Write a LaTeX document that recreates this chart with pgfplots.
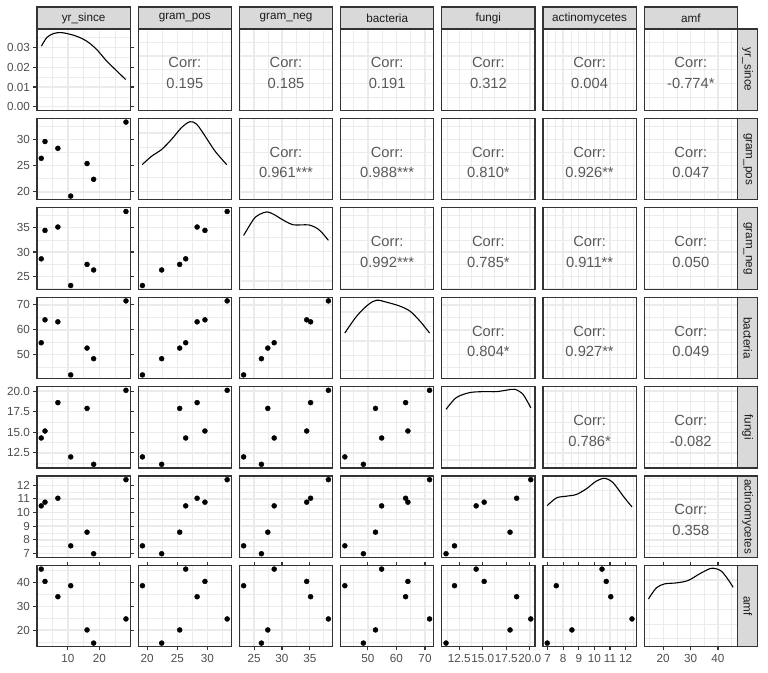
\documentclass[border=0pt]{standalone}
\usepackage{fontspec}
\setmainfont{Liberation Sans}
\usepackage{pgfplots}
\pgfplotsset{compat=1.18}
\usepackage{pgfplotstable}

\definecolor{grey20}{HTML}{333333}
\definecolor{grey30}{HTML}{4D4D4D}
\definecolor{grey92}{HTML}{EBEBEB}
\definecolor{grey85}{HTML}{D9D9D9}
\definecolor{grey10}{HTML}{1A1A1A}
\definecolor{corrc}{HTML}{595959}

\pgfplotstableread{
yr   gp    gn    bac   fun   act   amf
1.5  26.4  28.6  54.8  14.3  10.49 45.55
2.7  29.6  34.45 64.0  15.15 10.76 40.4
6.8  28.3  35.15 63.2  18.6  11.05 34.0
10.9 19.2  23.1  41.9  12.0  7.56  38.6
16.1 25.4  27.45 52.65 17.9  8.56  20.1
18.2 22.4  26.3  48.4  11.1  6.98  14.6
28.5 33.3  38.35 71.6  20.1  12.41 24.7
}\data

\pgfplotsset{
  base/.style={width=93.2pt,height=81.4pt,scale only axis,anchor=north west,
    axis line style={draw=grey20,line width=1.07pt},
    grid=both,
    major grid style={draw=grey92,line width=1.42pt},
    minor grid style={draw=grey92,line width=0.71pt},
    xticklabels={},yticklabels={},scaled ticks=false,
    tick align=outside,major tick length=3.67pt,minor tick length=0pt,
    xtick style={draw=none},ytick style={draw=none},
    ticklabel style={font=\fontsize{11.7}{13}\selectfont,text=grey30}},
  leftax/.style={ytick style={draw=grey20,line width=1.07pt},yticklabels={#1}},
  botax/.style={xtick style={draw=grey20,line width=1.07pt},xticklabels={#1}},
  xyr/.style={xmin=0.15,xmax=29.85,xtick={10,20},minor xtick={5,15,25}},
  yyr/.style={ymin=0.15,ymax=29.85,ytick={10,20},minor ytick={5,15,25}},
  xgp/.style={xmin=18.495,xmax=34.005,xtick={20,25,30},minor xtick={22.5,27.5,32.5}},
  ygp/.style={ymin=18.495,ymax=34.005,ytick={20,25,30},minor ytick={22.5,27.5,32.5}},
  xgn/.style={xmin=22.34,xmax=39.11,xtick={25,30,35},minor xtick={22.5,27.5,32.5,37.5}},
  ygn/.style={ymin=22.34,ymax=39.11,ytick={25,30,35},minor ytick={22.5,27.5,32.5,37.5}},
  xbac/.style={xmin=40.415,xmax=73.085,xtick={50,60,70},minor xtick={45,55,65}},
  ybac/.style={ymin=40.415,ymax=73.085,ytick={50,60,70},minor ytick={45,55,65}},
  xfun/.style={xmin=10.65,xmax=20.55,xtick={12.5,15,17.5,20},minor xtick={11.25,13.75,16.25,18.75}},
  yfun/.style={ymin=10.65,ymax=20.55,ytick={12.5,15,17.5,20},minor ytick={11.25,13.75,16.25,18.75}},
  xact/.style={xmin=6.71,xmax=12.68,xtick={7,8,9,10,11,12},minor xtick={7.5,8.5,9.5,10.5,11.5,12.5}},
  yact/.style={ymin=6.71,ymax=12.68,ytick={7,8,9,10,11,12},minor ytick={7.5,8.5,9.5,10.5,11.5,12.5}},
  xamf/.style={xmin=13.05,xmax=47.1,xtick={20,30,40},minor xtick={15,25,35,45}},
  yamf/.style={ymin=13.05,ymax=47.1,ytick={20,30,40},minor ytick={15,25,35,45}},
  yd1/.style={ymin=-0.00188,ymax=0.0395,ytick={0,0.01,0.02,0.03},minor ytick={0.005,0.015,0.025,0.035}},
  ydn/.style={ymin=0,ymax=1,ytick={0.1,0.46,0.82},minor ytick={0.28,0.64}},
}

\newcommand{\pos}[2]{\pgfmathsetmacro\px{37+101.2*(#1-1)}\pgfmathsetmacro\py{643-89.4*(#2-1)}}
% col,row,xname,yname,opts
\newcommand{\scat}[5]{\pos{#1}{#2}%
  \begin{axis}[base,at={(\px pt,\py pt)},x#3,y#4,#5]
    \addplot[only marks,mark=*,mark size=2.5pt,black] table[x=#3,y=#4]{\data};
  \end{axis}}
% col,row,xname,yname,text
\newcommand{\corr}[5]{\pos{#1}{#2}%
  \begin{axis}[base,at={(\px pt,\py pt)},x#3,y#4]
    \node[font=\fontsize{14.7}{16}\selectfont,text=corrc] at (rel axis cs:0.5,0.585) {Corr:};
    \node[font=\fontsize{14.7}{16}\selectfont,text=corrc] at (rel axis cs:0.5,0.33) {#5};
  \end{axis}}
% col,row,xname,ystyle,opts,coords
\newcommand{\dens}[6]{\pos{#1}{#2}%
  \begin{axis}[base,at={(\px pt,\py pt)},x#3,#4,#5]
    \addplot[black,line width=1.1pt,smooth,no marks] coordinates {#6};
  \end{axis}}
\newcommand{\topstrip}[2]{\pos{#1}{1}%
  \draw[grey20,line width=1.07pt,fill=grey85] (\px,643) rectangle ++(93.2,22);
  \node[font=\fontsize{11.7}{13}\selectfont,text=grey10] at ({\px+46.6},654) {#2};}
\newcommand{\rightstrip}[2]{\pos{1}{#1}%
  \draw[grey20,line width=1.07pt,fill=grey85] (737.7,\py) rectangle ++(20,-81.4);
  \node[font=\fontsize{11.7}{13}\selectfont,text=grey10,rotate=-90] at (747.7,{\py-40.7}) {#2};}

\begin{document}
\begin{tikzpicture}[x=1pt,y=1pt]
\useasboundingbox (0,0) rectangle (768,672);
% Row 1
\dens{1}{1}{yr}{yd1}{leftax={0.00,0.01,0.02,0.03}}{(1.56,0.0308) (3.35,0.0353) (5.46,0.0372) (7.56,0.0377) (9.67,0.0372) (12.8,0.0358) (16.0,0.0333) (19.1,0.0292) (22.3,0.0233) (25.5,0.0183) (28.4,0.0138)}
\corr{2}{1}{gp}{yr}{0.195}
\corr{3}{1}{gn}{yr}{0.185}
\corr{4}{1}{bac}{yr}{0.191}
\corr{5}{1}{fun}{yr}{0.312}
\corr{6}{1}{act}{yr}{0.004}
\corr{7}{1}{amf}{yr}{-0.774*}
% Row 2
\scat{1}{2}{yr}{gp}{leftax={20,25,30}}
\dens{2}{2}{gp}{ydn}{}{(19.16,0.432) (20.72,0.535) (22.39,0.618) (24.05,0.743) (25.72,0.888) (27.11,0.959) (28.22,0.929) (29.61,0.784) (31.28,0.598) (33.22,0.432)}
\corr{3}{2}{gn}{gp}{0.961***}
\corr{4}{2}{bac}{gp}{0.988***}
\corr{5}{2}{fun}{gp}{0.810*}
\corr{6}{2}{act}{gp}{0.926**}
\corr{7}{2}{amf}{gp}{0.047}
% Row 3
\scat{1}{3}{yr}{gn}{leftax={25,30,35}}
\scat{2}{3}{gp}{gn}{}
\dens{3}{3}{gn}{ydn}{}{(23.1,0.66) (24.9,0.86) (26,0.92) (27.3,0.95) (28.5,0.92) (29.7,0.87) (31,0.82) (32.1,0.79) (33.5,0.79) (34.8,0.79) (36,0.76) (37,0.71) (38.35,0.60)}
\corr{4}{3}{bac}{gn}{0.992***}
\corr{5}{3}{fun}{gn}{0.785*}
\corr{6}{3}{act}{gn}{0.911**}
\corr{7}{3}{amf}{gn}{0.050}
% Row 4
\scat{1}{4}{yr}{bac}{leftax={50,60,70}}
\scat{2}{4}{gp}{bac}{}
\scat{3}{4}{gn}{bac}{}
\dens{4}{4}{bac}{ydn}{}{(41.9,0.56) (46.0,0.765) (50.1,0.909) (53.06,0.963) (56.6,0.938) (61.3,0.889) (64.8,0.827) (68.3,0.704) (71.6,0.56)}
\corr{5}{4}{fun}{bac}{0.804*}
\corr{6}{4}{act}{bac}{0.927**}
\corr{7}{4}{amf}{bac}{0.049}
% Row 5
\scat{1}{5}{yr}{fun}{leftax={12.5,15.0,17.5,20.0}}
\scat{2}{5}{gp}{fun}{}
\scat{3}{5}{gn}{fun}{}
\scat{4}{5}{bac}{fun}{}
\dens{5}{5}{fun}{ydn}{}{(11.1,0.72) (12.18,0.864) (13.6,0.926) (15.0,0.938) (16.43,0.938) (17.5,0.955) (18.39,0.967) (19.27,0.905) (20.1,0.74)}
\corr{6}{5}{act}{fun}{0.786*}
\corr{7}{5}{amf}{fun}{-0.082}
% Row 6
\scat{1}{6}{yr}{act}{leftax={7,8,9,10,11,12}}
\scat{2}{6}{gp}{act}{}
\scat{3}{6}{gn}{act}{}
\scat{4}{6}{bac}{act}{}
\scat{5}{6}{fun}{act}{}
\dens{6}{6}{act}{ydn}{}{(6.98,0.636) (7.57,0.731) (8.21,0.752) (8.85,0.773) (9.49,0.843) (10.13,0.938) (10.67,0.971) (11.2,0.917) (11.85,0.752) (12.41,0.62)}
\corr{7}{6}{amf}{act}{0.358}
% Row 7
\scat{1}{7}{yr}{amf}{leftax={20,30,40},botax={10,20}}
\scat{2}{7}{gp}{amf}{botax={20,25,30}}
\scat{3}{7}{gn}{amf}{botax={25,30,35}}
\scat{4}{7}{bac}{amf}{botax={50,60,70}}
\scat{5}{7}{fun}{amf}{botax={12.5,15.0,17.5,20.0}}
\scat{6}{7}{act}{amf}{botax={7,8,9,10,11,12}}
\dens{7}{7}{amf}{ydn}{botax={20,30,40}}{(14.6,0.587) (17.45,0.723) (20.5,0.773) (24.77,0.785) (29.05,0.814) (33.32,0.897) (36.98,0.959) (38.81,0.963) (41.25,0.93) (43.7,0.826) (45.55,0.731)}
% strips
\topstrip{1}{yr\_since}
\topstrip{2}{gram\_pos}
\topstrip{3}{gram\_neg}
\topstrip{4}{bacteria}
\topstrip{5}{fungi}
\topstrip{6}{actinomycetes}
\topstrip{7}{amf}
\rightstrip{1}{yr\_since}
\rightstrip{2}{gram\_pos}
\rightstrip{3}{gram\_neg}
\rightstrip{4}{bacteria}
\rightstrip{5}{fungi}
\rightstrip{6}{actinomycetes}
\rightstrip{7}{amf}
\end{tikzpicture}
\end{document}
